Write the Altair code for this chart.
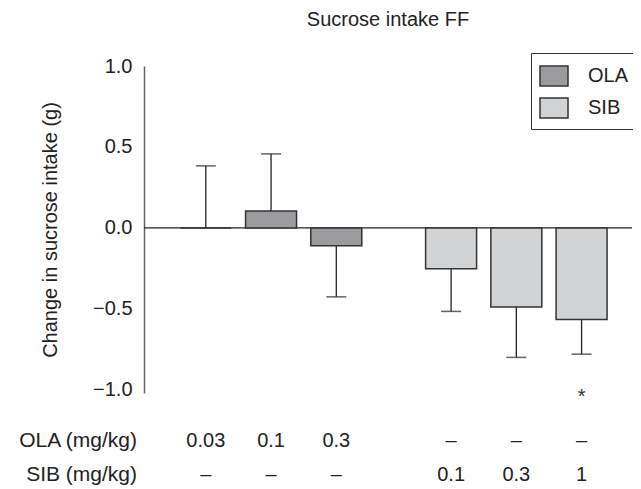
import altair as alt
import pandas as pd

drug = ["OLA", "OLA", "OLA", "SIB", "SIB", "SIB"]
dose = ["0.03", "0.1", "0.3", "0.1", "0.3", "1"]
means = [0.0, 0.105, -0.11, -0.253, -0.488, -0.566]
sems = [0.383, 0.352, 0.316, 0.263, 0.312, 0.214]
ola_row = ["0.03", "0.1", "0.3", "–", "–", "–"]
sib_row = ["–", "–", "–", "0.1", "0.3", "1"]
y_ticks = [-1.0, -0.5, 0.0, 0.5, 1.0]
significant = [False, False, False, False, False, True]

# group gap between OLA and SIB blocks
pos = []
for i, d in enumerate(drug):
    pos.append(i + (0.76 if d == "SIB" else 0.0))

rows = []
for i in range(len(drug)):
    m, s = means[i], sems[i]
    end = m + s if m >= 0 else m - s
    rows.append(dict(pos=pos[i], drug=drug[i], dose=dose[i], mean=m, end=end,
                     ola=ola_row[i], sib=sib_row[i], sig=significant[i],
                     star_y=-1.0))
df = pd.DataFrame(rows)

FONT = "Liberation Sans"
FS = 20
W, H = 488, 327
xscale = alt.Scale(domain=[-0.871, -0.871 + W / 66.6], nice=False, zero=False)
yscale = alt.Scale(domain=[-1.02, 1.0], nice=False, zero=False)

base = alt.Chart(df)

zero_line = alt.Chart(pd.DataFrame({"y": [0.0]})).mark_rule(
    color="#222", strokeWidth=1.3).encode(y=alt.Y("y:Q", scale=yscale))

err = base.mark_rule(color="#222", strokeWidth=1.3).encode(
    x=alt.X("pos:Q", scale=xscale, axis=None),
    y=alt.Y("mean:Q", scale=yscale),
    y2="end:Q",
)
caps = base.mark_tick(color="#222", thickness=1.5, size=20, orient="horizontal").encode(
    x=alt.X("pos:Q", scale=xscale, axis=None),
    y=alt.Y("end:Q", scale=yscale),
)

bars = base.mark_bar(size=51, stroke="#333", strokeWidth=1.5).encode(
    x=alt.X("pos:Q", scale=xscale, axis=None),
    y=alt.Y("mean:Q", scale=yscale,
            axis=alt.Axis(title="Change in sucrose intake (g)", values=y_ticks,
                          format=".1f", ticks=False, grid=False, domainColor="#666",
                          domainWidth=1.5, labelPadding=12, labelFontSize=FS,
                          labelColor="#222", labelFont=FONT, titleFont=FONT,
                          titleFontSize=FS, titleFontWeight="normal",
                          titleColor="#222", titlePadding=32)),
    y2=alt.datum(0),
    fill=alt.Color("drug:N", scale=alt.Scale(domain=["OLA", "SIB"],
                                              range=["#9b9b9f", "#d2d3d5"]),
                   legend=alt.Legend(title=None, orient="none", legendX=387, legendY=-13,
                                     symbolType="M-1,-0.714L1,-0.714L1,0.714L-1,0.714Z",
                                     symbolSize=784,
                                     symbolStrokeColor="#333", symbolStrokeWidth=1.5,
                                     labelFontSize=FS, labelFont=FONT, labelColor="#222",
                                     rowPadding=4, padding=8, labelOffset=19,
                                     strokeColor="#333", fillColor="white")),
)

stars = base.transform_filter(alt.datum.sig).mark_text(
    text="*", fontSize=20, font=FONT, color="#333", baseline="middle", dy=7).encode(
    x=alt.X("pos:Q", scale=xscale, axis=None),
    y=alt.Y("star_y:Q", scale=yscale),
)

ola_text = base.mark_text(fontSize=FS, font=FONT, color="#222", baseline="middle").encode(
    x=alt.X("pos:Q", scale=xscale, axis=None), y=alt.value(375), text="ola:N")
sib_text = base.mark_text(fontSize=FS, font=FONT, color="#222", baseline="middle").encode(
    x=alt.X("pos:Q", scale=xscale, axis=None), y=alt.value(409), text="sib:N")

row_labels = alt.Chart(pd.DataFrame({"label": ["OLA (mg/kg)", "SIB (mg/kg)"],
                                     "yy": [375, 409]})).mark_text(
    fontSize=21, font=FONT, color="#222", align="right", baseline="middle").encode(
    x=alt.value(-7), y=alt.Y("yy:Q", scale=None), text="label:N")

chart = alt.layer(zero_line, err, caps, bars, stars, ola_text, sib_text, row_labels).properties(
    width=W, height=H,
    title=alt.TitleParams("Sucrose intake FF", fontSize=FS, font=FONT, fontWeight="normal",
                          color="#222", anchor="middle", offset=23),
    autosize=alt.AutoSizeParams(type="none"),
    padding={"left": 136, "top": 58, "right": 1, "bottom": 95},
).configure_view(stroke=None)

chart.save("out.html", embed_options={"renderer": "svg", "actions": False})
